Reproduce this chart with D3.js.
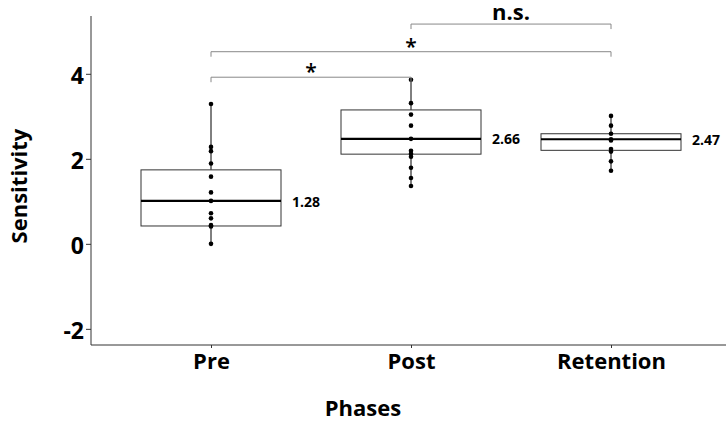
<!DOCTYPE html>
<html>
<head>
<meta charset="utf-8">
<script src="https://cdn.jsdelivr.net/npm/d3@7"></script>
<style>
html,body{margin:0;padding:0;background:#fff;}
svg{display:block;}
text{font-family:"Open Sans",sans-serif;font-weight:700;fill:#000;}
</style>
</head>
<body>
<svg id="chart" width="726" height="422"></svg>
<script>
// ---- data ----
const categories = ["Pre", "Post", "Retention"];
const preValues = [3.29, 2.28, 2.18, 1.89, 1.58, 1.21, 1.01, 0.72, 0.60, 0.44, 0.41, 0.0];
const postValues = [3.86, 3.31, 3.04, 2.78, 2.47, 2.19, 2.12, 2.05, 1.79, 1.55, 1.36];
const retentionValues = [3.01, 2.78, 2.59, 2.46, 2.43, 2.23, 2.17, 1.94, 1.72];
const q1Values = [0.42, 2.11, 2.20];
const medianValues = [1.01, 2.47, 2.46];
const q3Values = [1.74, 3.15, 2.59];
const meanValues = [1.28, 2.66, 2.47];
const yTicks = [-2, 0, 2, 4];
const bracketFrom = ["Pre", "Pre", "Post"];
const bracketTo = ["Post", "Retention", "Retention"];
const bracketLevel = [3.92, 4.52, 5.17];
const bracketLabels = ["*", "*", "n.s."];

const seriesValues = [preValues, postValues, retentionValues];

const svg = d3.select("#chart");
const mLeft = 91, mRight = 731, mTop = 16, mBottom = 345;

const x = d3.scalePoint().domain(categories).range([mLeft, mRight]).padding(0.6);
const y = d3.scaleLinear().domain([-2.38, 5.36]).range([mBottom, mTop]);
const boxW = x.step() * 0.7;

// axes
const yAxis = d3.axisLeft(y).tickValues(yTicks).tickSize(5).tickPadding(2).tickFormat(d => String(d));
const gy = svg.append("g").attr("transform", `translate(${mLeft},0)`).call(yAxis);
gy.select(".domain").attr("d", `M0,${mTop}V${mBottom}`).attr("stroke", "#333");
gy.selectAll(".tick line").attr("stroke", "#333");
gy.selectAll(".tick text").style("font-size", "23px").style("font-family", "'Open Sans',sans-serif").style("font-weight", 700).attr("fill", "#000").attr("dy", "0.4em");

const xAxis = d3.axisBottom(x).tickSize(3).tickPadding(3);
const gx = svg.append("g").attr("transform", `translate(0,${mBottom})`).call(xAxis);
gx.select(".domain").attr("d", `M${mLeft},0H${mRight}`).attr("stroke", "#333");
gx.selectAll(".tick line").attr("stroke", "#333");
gx.selectAll(".tick text").style("font-size", "22px").style("font-family", "'Open Sans',sans-serif").style("font-weight", 700).attr("fill", "#000").attr("dy", "0.8em");

// axis titles
svg.append("text").attr("x", 363).attr("y", 416).attr("text-anchor", "middle").style("font-size", "22px").text("Phases");
svg.append("text").attr("transform", `translate(27,186) rotate(-90)`).attr("text-anchor", "middle").style("font-size", "22px").text("Sensitivity");

// boxes
categories.forEach((c, i) => {
  const vals = seriesValues[i];
  const cx = x(c);
  const lo = d3.min(vals), hi = d3.max(vals);
  const g = svg.append("g");
  g.append("line").attr("x1", cx).attr("x2", cx).attr("y1", y(hi)).attr("y2", y(q3Values[i])).attr("stroke", "#000").attr("stroke-width", 1);
  g.append("line").attr("x1", cx).attr("x2", cx).attr("y1", y(q1Values[i])).attr("y2", y(lo)).attr("stroke", "#000").attr("stroke-width", 1);
  g.append("rect").attr("x", cx - boxW / 2).attr("y", y(q3Values[i])).attr("width", boxW).attr("height", y(q1Values[i]) - y(q3Values[i]))
    .attr("fill", "#fff").attr("stroke", "#333").attr("stroke-width", 1);
  g.append("line").attr("x1", cx - boxW / 2).attr("x2", cx + boxW / 2).attr("y1", y(medianValues[i])).attr("y2", y(medianValues[i])).attr("stroke", "#000").attr("stroke-width", 2.2);
  g.selectAll("circle").data(vals).join("circle").attr("cx", cx).attr("cy", d => y(d)).attr("r", 2.3).attr("fill", "#000");
  g.append("text").attr("x", cx + boxW / 2 + 11).attr("y", y(medianValues[i])).attr("dy", "0.4em").style("font-size", "14px").text(meanValues[i].toFixed(2));
});

// significance brackets
bracketLevel.forEach((lv, i) => {
  const x1 = x(bracketFrom[i]), x2 = x(bracketTo[i]), yy = y(lv);
  svg.append("path").attr("d", `M${x1},${yy + 5}V${yy}H${x2}V${yy + 5}`).attr("fill", "none").attr("stroke", "#888").attr("stroke-width", 1);
  const lab = bracketLabels[i];
  svg.append("text").attr("x", (x1 + x2) / 2).attr("y", lab === "*" ? yy + 2 : yy - 4)
    .attr("text-anchor", "middle").style("font-size", lab === "*" ? "21px" : "22px").style("font-weight", lab === "*" ? 600 : 700).text(lab);
});
</script>
</body>
</html>
